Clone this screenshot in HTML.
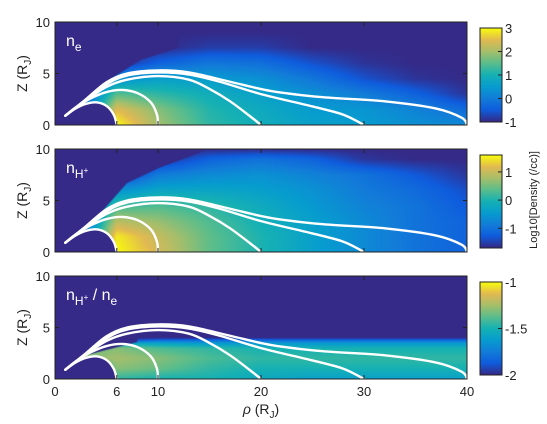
<!DOCTYPE html>
<html><head><meta charset="utf-8"><style>
body{margin:0;background:#fff;width:547px;height:424px;overflow:hidden;position:relative;font-family:"Liberation Sans",sans-serif}
canvas{position:absolute}
svg{position:absolute;left:0;top:0}
</style></head><body>
<canvas id="c0" width="412" height="103" style="left:55px;top:22px"></canvas>
<canvas id="c1" width="412" height="103" style="left:55px;top:149px"></canvas>
<canvas id="c2" width="412" height="103" style="left:55px;top:276px"></canvas>
<canvas id="b0" width="22" height="94" style="left:480px;top:28px"></canvas>
<canvas id="b1" width="22" height="93" style="left:480px;top:155px"></canvas>
<canvas id="b2" width="22" height="93" style="left:480px;top:282px"></canvas>
<svg id="ov" width="547" height="424"></svg>
<script>
// ---- data ----
const xs = [2,6,10,15,20,25,30,35,40];
const zsNe = [0,1.5,3,4.5,6,7.5,9,10];
const ne = [
[-1,3.0,2.0,1.2,0.9,0.6,0.5,0.3,0.2],
[-1,2.5,1.8,1.1,0.8,0.5,0.4,0.1,-0.3],
[-1,1.5,1.2,0.9,0.6,0.3,0.0,-0.4,-0.9],
[-1,0.3,0.6,0.5,0.3,-0.1,-0.6,-0.9,-1],
[-1,-1,-0.4,-0.1,-0.2,-0.6,-0.9,-1,-1],
[-1,-1,-1,-0.8,-0.8,-1,-1,-1,-1],
[-1,-1,-1,-1,-1,-1,-1,-1,-1],
[-1,-1,-1,-1,-1,-1,-1,-1,-1]];
const zsNh = [0,1.5,3,4.5,6,7.5,9,10];
const nh = [
[-1.7,1.6,1.1,0.4,0.0,-0.4,-0.7,-1.0,-1.2],
[-1.7,1.5,1.0,0.4,0.0,-0.4,-0.7,-1.0,-1.2],
[-1.7,0.9,0.7,0.3,-0.1,-0.4,-0.7,-1.0,-1.2],
[-1.7,0.2,0.3,0.1,-0.2,-0.5,-0.8,-1.0,-1.3],
[-1.7,-0.6,-0.3,-0.3,-0.4,-0.6,-0.9,-1.1,-1.4],
[-1.7,-1.7,-0.9,-0.7,-0.6,-0.8,-1.0,-1.3,-1.6],
[-1.7,-1.7,-1.7,-1.2,-1.0,-1.2,-1.6,-1.7,-1.7],
[-1.7,-1.7,-1.7,-1.7,-1.7,-1.7,-1.7,-1.7,-1.7]];
const zsRatio = [0,1,2,3,3.5,3.8,4.0,10];
const ratio = [
[-2,-1.45,-1.5,-1.5,-1.55,-1.6,-1.6,-1.6,-1.6],
[-2,-1.3,-1.35,-1.45,-1.5,-1.5,-1.5,-1.5,-1.5],
[-1.3,-1.25,-1.3,-1.4,-1.45,-1.45,-1.45,-1.45,-1.45],
[-1.4,-1.3,-1.4,-1.45,-1.5,-1.5,-1.5,-1.5,-1.5],
[-2,-1.6,-1.6,-1.65,-1.65,-1.65,-1.65,-1.65,-1.65],
[-2,-2,-1.85,-1.85,-1.85,-1.85,-1.85,-1.85,-1.85],
[-2,-2,-2,-2,-2,-2,-2,-2,-2],
[-2,-2,-2,-2,-2,-2,-2,-2,-2]];
const ranges = [[-1,3],[-1.7,1.6],[-2,-1]];
const cbTicks = [[3,2,1,0,-1],[1,0,-1],[-1,-1.5,-2]];
const cbTickLabels = [["3","2","1","0","-1"],["1","0","-1"],["-1","-1.5","-2"]];
const xTicks = [0,6,10,20,30,40];
const yTicks = [0,5,10];
const edgeNe = [[1,0.9],[5,4.2],[8.3,6.3],[12,7.5],[12,10]];
const edgeNh = [[1,0.9],[4,3.3],[7,6.7],[10.2,8.2],[14,9.6],[14.5,10]];
const edgeRatio = [[1,0.9],[3,2.3],[8,3.6],[8,10]];
const lineL6 = [[1,0.9],[2,1.6],[3,2.05],[4,2.2],[5,1.85],[5.7,1],[6,0]];
const lineL10 = [[1,0.9],[2,1.7],[3.5,2.6],[5,3.2],[6.5,3.4],[8,3.1],[9.3,2.2],[9.9,1],[10,0]];
const lineL20 = [[1,0.9],[3,2.4],[5,3.7],[7,4.4],[10,4.75],[13,4.4],[15,3.5],[17,2.3],[19,0.8],[20,0]];
const lineL30 = [[1,0.9],[3,2.45],[5,3.95],[7,4.8],[10,5.1],[13,4.9],[16,4.2],[20,3.0],[25,1.8],[28,1.0],[30,0]];
const lineL40 = [[1,0.9],[3,2.5],[5,4.15],[7,5.0],[10,5.3],[13,5.1],[17,4.2],[21,3.3],[26,2.7],[32,2.3],[37,1.6],[39.5,0.7],[40,0]];
// ---- rendering ----
const fieldLines=[lineL6,lineL10,lineL20,lineL30,lineL40];
const edges=[edgeNe,edgeNh,edgeRatio];
const tops=[22,149,276], L=55, W=412, H=103;
const K=W/40;
const sx=x=>x*K, sz=z=>H-z*K;
const par=[[53,42,135],[15,92,221],[18,125,216],[7,156,207],[21,177,180],[89,189,140],[165,190,107],[225,185,82],[249,251,14]];
function cmap(t){t=Math.max(0,Math.min(1,t))*8;const i=Math.min(7,Math.floor(t)),f=t-i;return par[i].map((c,k)=>Math.round(c+(par[i+1][k]-c)*f));}
function seg(a,v){if(v<=a[0])return[0,0];for(let i=0;i<a.length-1;i++)if(v<=a[i+1])return[i,(v-a[i])/(a[i+1]-a[i])];return[a.length-2,1];}
function smoothPath(pts,ox,oy){const P=pts.map(q=>[ox+sx(q[0]),oy+sz(q[1])]);let d='M'+P[0][0]+','+P[0][1];
 for(let i=0;i<P.length-1;i++){const p0=P[Math.max(0,i-1)],p1=P[i],p2=P[i+1],p3=P[Math.min(P.length-1,i+2)];
  const c1=[p1[0]+(p2[0]-p0[0])/6,p1[1]+(p2[1]-p0[1])/6],c2=[p2[0]-(p3[0]-p1[0])/6,p2[1]-(p3[1]-p1[1])/6];
  d+=` C${c1[0]},${c1[1]} ${c2[0]},${c2[1]} ${p2[0]},${p2[1]}`;}return d;}
const grids=[[zsNe,ne],[zsNh,nh],[zsRatio,ratio]];
grids.forEach((g,p)=>{
 const cv=document.getElementById('c'+p),ctx=cv.getContext('2d');
 const im=ctx.createImageData(W,H),[lo,hi]=ranges[p];
 for(let py=0;py<H;py++){const z=(H-py-0.5)/K;const[j,fz]=seg(g[0],z);
  for(let px=0;px<W;px++){const x=(px+0.5)/K;const[i,fx]=seg(xs,x);
   const v=(g[1][j][i]*(1-fx)+g[1][j][i+1]*fx)*(1-fz)+(g[1][j+1][i]*(1-fx)+g[1][j+1][i+1]*fx)*fz;
   const c=cmap((v-lo)/(hi-lo)),o=(py*W+px)*4;im.data[o]=c[0];im.data[o+1]=c[1];im.data[o+2]=c[2];im.data[o+3]=255;}}
 ctx.putImageData(im,0,0);
 ctx.fillStyle='rgb(53,42,135)';
 ctx.fill(new Path2D(smoothPath(lineL6,0,0)+' L0,'+H+' Z'));
 ctx.fillRect(0,0,sx(1),H);
 ctx.beginPath();ctx.moveTo(0,sz(0.9));edges[p].forEach(q=>ctx.lineTo(sx(q[0]),sz(q[1])));ctx.lineTo(0,0);ctx.closePath();ctx.fill();
 const b=document.getElementById('b'+p),bc=b.getContext('2d');
 for(let y=0;y<b.height;y++){const c=cmap(1-y/(b.height-1));bc.fillStyle=`rgb(${c})`;bc.fillRect(0,y,22,1);}
});
const NS='http://www.w3.org/2000/svg',ov=document.getElementById('ov');
function el(t,a,txt){const e=document.createElementNS(NS,t);for(const k in a)e.setAttribute(k,a[k]);if(txt!=null)e.textContent=txt;ov.appendChild(e);return e;}
tops.forEach((T,p)=>{
 fieldLines.forEach((ln,k)=>{const e=el('path',{d:smoothPath(ln,L,T),fill:'none',stroke:'#fff','stroke-width':2.4,'stroke-linecap':'round'});
  
  });
 const fr=el('rect',{x:L,y:T,width:W,height:H,fill:'none',stroke:'#222','stroke-width':1});
 
 
 xTicks.forEach(v=>{const X=L+sx(v);el('line',{x1:X,x2:X,y1:T,y2:T+4,stroke:'#222'});el('line',{x1:X,x2:X,y1:T+H,y2:T+H-4,stroke:'#222'});
  if(p==2){const t=el('text',{x:X,y:T+H+17,'font-size':13,'text-anchor':'middle',fill:'#222'},String(v));}});
 yTicks.forEach(v=>{const Y=T+sz(v);el('line',{x1:L,x2:L+4,y1:Y,y2:Y,stroke:'#222'});el('line',{x1:L+W,x2:L+W-4,y1:Y,y2:Y,stroke:'#222'});
  const t=el('text',{x:L-5,y:Y+5,'font-size':13,'text-anchor':'end',fill:'#222'},String(v));});
 const yl=el('text',{transform:`translate(${27},${T+H/2}) rotate(-90)`,'font-size':14,'text-anchor':'middle',fill:'#222'});
 
 
 yl.innerHTML='Z (R<tspan font-size="10" dy="4">J</tspan><tspan dy="-4">)</tspan>';
 const pl=el('text',{x:66,y:T+24,'font-size':16,fill:'#fff'});
 
 
 pl.innerHTML=p==0?'n<tspan font-size="12" dy="5">e</tspan>':p==1?'n<tspan font-size="12" dy="5">H</tspan><tspan font-size="8" dy="-5">+</tspan>':'n<tspan font-size="12" dy="5">H</tspan><tspan font-size="8" dy="-5">+</tspan><tspan dy="0"> / n</tspan><tspan font-size="12" dy="5">e</tspan>';
 const cbT=[28,155,282][p],cbH=[94,93,93][p],[lo,hi]=ranges[p];
 el('rect',{x:480,y:cbT,width:22,height:cbH,fill:'none',stroke:'#222'});
 cbTicks[p].forEach((v,k)=>{const Y=cbT+(hi-v)/(hi-lo)*cbH;el('line',{x1:498,x2:502,y1:Y,y2:Y,stroke:'#222'});
  const t=el('text',{x:505,y:Y+5,'font-size':13,fill:'#222'},cbTickLabels[p][k]);});
});
const xl=el('text',{x:261,y:414,'font-size':14,'text-anchor':'middle',fill:'#222'});


xl.innerHTML='<tspan font-style="italic">ρ</tspan> (R<tspan font-size="10" dy="4">J</tspan><tspan dy="-4">)</tspan>';
const cl=el('text',{transform:'translate(537,200) rotate(-90)','font-size':11,'text-anchor':'middle',fill:'#222'},'Log10[Density (/cc)]');


</script>
</body></html>
